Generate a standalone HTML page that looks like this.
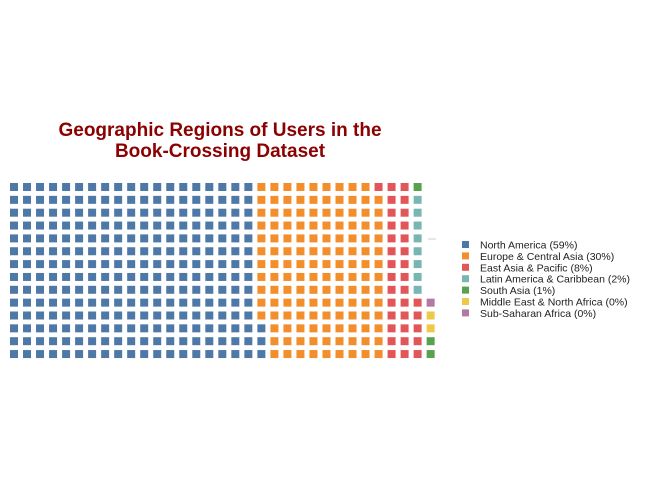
<!DOCTYPE html>
<html><head><meta charset="utf-8"><style>
body{margin:0;background:#fff;}
svg{display:block;font-family:"Liberation Sans",sans-serif;}
</style></head><body>
<svg id="chart" width="650" height="485">
<text x="220" y="136" text-anchor="middle" font-size="19" font-weight="bold" fill="#8B0000">Geographic Regions of Users in the</text>
<text x="220" y="157" text-anchor="middle" font-size="19" font-weight="bold" fill="#8B0000">Book-Crossing Dataset</text>
<line x1="428" y1="239" x2="436" y2="239" stroke="#ccc" stroke-width="1"/>
<g id="cells"></g>
<g id="legend"></g>
</svg>
<script>
const categories = ["North America (59%)","Europe & Central Asia (30%)","East Asia & Pacific (8%)","Latin America & Caribbean (2%)","South Asia (1%)","Middle East & North Africa (0%)","Sub-Saharan Africa (0%)"];
const counts = [269, 136, 34, 8, 3, 2, 1];
const colors = ["#4E79A7","#F28E2B","#E15759","#76B7B2","#59A14F","#EDC948","#B07AA1"];
const NS = "http://www.w3.org/2000/svg";
const rows = 14, x0 = 10, y0 = 183, pitch = 13.02, size = 8;
const cells = document.getElementById('cells');
let idx = 0;
counts.forEach((n, c) => {
  for (let k = 0; k < n; k++) {
    const col = Math.floor(idx / rows);
    const row = rows - 1 - (idx % rows);
    const r = document.createElementNS(NS, 'rect');
    r.setAttribute('x', x0 + col * pitch);
    r.setAttribute('y', y0 + row * 12.85);
    r.setAttribute('width', size);
    r.setAttribute('height', size);
    r.setAttribute('fill', colors[c]);
    
    
    cells.appendChild(r);
    idx++;
  }
});
const lg = document.getElementById('legend');
categories.forEach((name, i) => {
  const y = 245 + i * 11.4;
  const s = document.createElementNS(NS, 'rect');
  s.setAttribute('x', 462); s.setAttribute('y', y - 4);
  s.setAttribute('width', 7); s.setAttribute('height', 7);
  s.setAttribute('fill', colors[i]);
  
  
  lg.appendChild(s);
  const t = document.createElementNS(NS, 'text');
  t.setAttribute('x', 480); t.setAttribute('y', y + 3.5);
  t.setAttribute('font-size', '10.5'); t.setAttribute('fill', '#222');
  t.textContent = name;
  
  
  lg.appendChild(t);
});
</script>
</body></html>
